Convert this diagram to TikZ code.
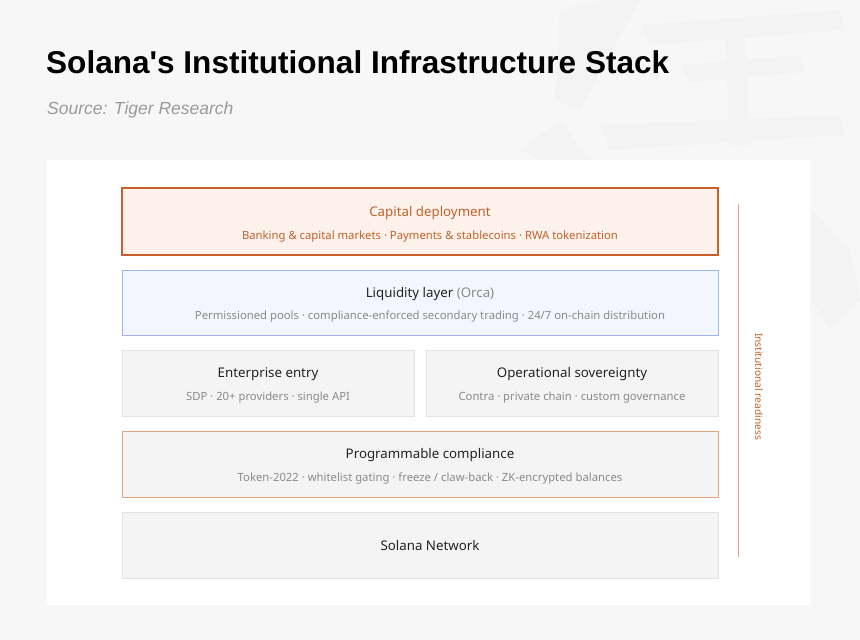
\documentclass[tikz,border=0pt]{standalone}
\usepackage{fontspec}
\setmainfont{Noto Sans}
\newfontfamily\titlefont{Liberation Sans}
\usepackage{graphicx}
\definecolor{bgc}{HTML}{F7F7F7}
\definecolor{wmark}{HTML}{F3F3F3}
\definecolor{orangeD}{HTML}{C9602A}
\definecolor{orangeT}{HTML}{C0622A}
\definecolor{orangeL}{HTML}{E2A582}
\definecolor{capfill}{HTML}{FDF1EB}
\definecolor{liqfill}{HTML}{F3F6FE}
\definecolor{liqdraw}{HTML}{9FB6EA}
\definecolor{greyfill}{HTML}{F4F4F4}
\definecolor{greydraw}{HTML}{E2E2E2}
\definecolor{txtdark}{HTML}{222222}
\definecolor{txtgrey}{HTML}{8A8A8A}
\definecolor{srcgrey}{HTML}{9A9A9A}
\tikzset{
  layerbox/.style={draw=greydraw, fill=greyfill, line width=0.9pt, minimum height=66pt, inner sep=0pt},
  ttl/.style={anchor=base, font=\fontsize{13.3}{16}\selectfont, text=txtdark, inner sep=0pt},
  sub/.style={anchor=base, font=\fontsize{11.3}{13}\selectfont, text=txtgrey, inner sep=0pt},
}
\begin{document}
\begin{tikzpicture}[x=1pt,y=-1pt]
\useasboundingbox (0,0) rectangle (860,640);
\fill[bgc] (0,0) rectangle (860,640);
% faint watermark strokes
\begin{scope}[fill=wmark]
\fill (560,10) -- (600,0) -- (640,0) -- (580,110) -- (555,100) -- cycle;
\fill (640,25) -- (840,10) -- (845,30) -- (650,45) -- cycle;
\fill (680,65) -- (800,55) -- (805,72) -- (690,82) -- cycle;
\fill (725,35) -- (745,35) -- (750,145) -- (730,145) -- cycle;
\fill (600,125) -- (840,115) -- (845,135) -- (610,150) -- cycle;
\fill (520,150) -- (560,120) -- (590,160) -- (540,160) -- cycle;
\fill (812,210) -- (850,250) -- (860,300) -- (830,330) -- (812,300) -- cycle;
\end{scope}
% white panel
\fill[white] (47,160) rectangle (810,605);
% title
\node[anchor=base west, inner sep=0pt, font=\titlefont\bfseries\fontsize{29}{34}\selectfont] (title) at (46,73) {\resizebox{623pt}{!}{Solana\textquotesingle s Institutional Infrastructure Stack}};
\node[anchor=base west, inner sep=0pt, text=srcgrey, font=\titlefont\itshape\fontsize{17.5}{20}\selectfont] (src) at (47,114) {Source: Tiger Research};
% layers
\node[layerbox, draw=orangeD, fill=capfill, line width=1.5pt, minimum width=596pt, minimum height=67pt] (cap) at (420,221.5) {};
\node[ttl, text=orangeT] (capt) at (430,216) {Capital deployment};
\node[sub, text=orangeT] (caps) at (430,239) {Banking \& capital markets · Payments \& stablecoins · RWA tokenization};

\node[layerbox, draw=liqdraw, fill=liqfill, minimum width=596pt, minimum height=65pt] (liq) at (420,302.5) {};
\node[ttl] (liqt) at (430,297) {Liquidity layer {\color{txtgrey}(Orca)}};
\node[sub] (liqs) at (430,319.5) {Permissioned pools · compliance-enforced secondary trading · 24/7 on-chain distribution};

\node[layerbox, minimum width=292pt] (ent) at (268,383) {};
\node[ttl] (entt) at (268,377.5) {Enterprise entry};
\node[sub] (ents) at (268,400) {SDP · 20+ providers · single API};

\node[layerbox, minimum width=292pt] (ops) at (572,383) {};
\node[ttl] (opst) at (572,377.5) {Operational sovereignty};
\node[sub] (opss) at (572,400) {Contra · private chain · custom governance};

\node[layerbox, draw=orangeL, minimum width=596pt] (prog) at (420,464) {};
\node[ttl] (progt) at (430,458.5) {Programmable compliance};
\node[sub] (progs) at (430,481) {Token-2022 · whitelist gating · freeze / claw-back · ZK-encrypted balances};

\node[layerbox, minimum width=596pt] (sol) at (420,545) {};
\node[ttl] (solt) at (430,550) {Solana Network};

% readiness axis
\coordinate (rtop) at (738,204);
\coordinate (rbot) at (738,557);
\draw[orangeL, line width=1pt] (rtop) -- (rbot);
\node[rotate=-90, inner sep=0pt, text=orangeT, font=\fontsize{10.2}{12}\selectfont] (ready) at (759,386.5) {Institutional readiness};
\end{tikzpicture}
\end{document}
